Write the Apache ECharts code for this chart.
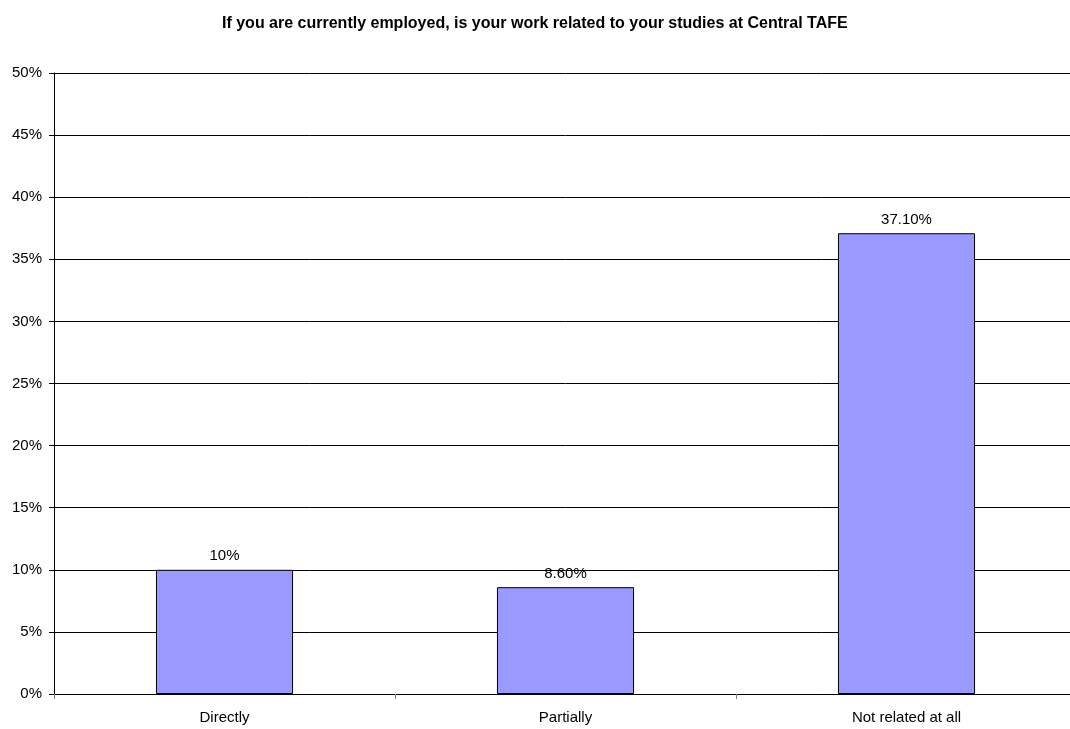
<!DOCTYPE html>
<html>
<head>
<meta charset="utf-8">
<script src="https://cdn.jsdelivr.net/npm/echarts@6/dist/echarts.min.js"></script>
<style>
  html, body { margin: 0; padding: 0; background: #fff; overflow: hidden; width: 1070px; height: 729px; }
  /* a bit wider than the window: the plot area runs past the right edge in the original */
  #chart { width: 1077px; height: 729px; }
</style>
</head>
<body>
<div id="chart"></div>
<script>
// data
const categories = ["Directly", "Partially", "Not related at all"];
const values = [10, 8.6, 37.1];
const valueLabels = ["10%", "8.60%", "37.10%"];
const yTicks = [0, 5, 10, 15, 20, 25, 30, 35, 40, 45, 50];

const chart = echarts.init(document.getElementById("chart"));
const font = "'Liberation Sans', Arial, sans-serif";

chart.setOption({
  animation: false,
  title: {
    text: "If you are currently employed, is your work related to your studies at Central TAFE",
    left: 217,
    top: 11,
    textStyle: { fontFamily: font, fontSize: 16, fontWeight: "bold", color: "#000" }
  },
  grid: { left: 54, right: 0, top: 73, bottom: 35 },
  xAxis: {
    type: "category",
    data: categories,
    axisLine: { lineStyle: { color: "#000", width: 1 } },
    axisTick: { show: true, alignWithLabel: false, length: 5, lineStyle: { color: "#808080" } },
    axisLabel: { fontFamily: font, fontSize: 15, color: "#000", margin: 16 }
  },
  yAxis: {
    type: "value",
    min: yTicks[0],
    max: yTicks[yTicks.length - 1],
    interval: 5,
    axisLine: { show: true, lineStyle: { color: "#000", width: 1 } },
    axisTick: { show: true, length: 5, lineStyle: { color: "#000" } },
    axisLabel: { fontFamily: font, fontSize: 15, color: "#000", margin: 12, formatter: "{value}%" },
    splitLine: { show: true, lineStyle: { color: "#000", width: 1 } }
  },
  series: [
    {
      type: "bar",
      data: values,
      barWidth: "40.2%",
      itemStyle: { color: "#9999FF", borderColor: "#000", borderWidth: 1 },
      label: {
        show: true,
        position: "top",
        distance: 6,
        fontFamily: font,
        fontSize: 15,
        color: "#000",
        formatter: (p) => valueLabels[p.dataIndex]
      }
    }
  ]
});
</script>
</body>
</html>
